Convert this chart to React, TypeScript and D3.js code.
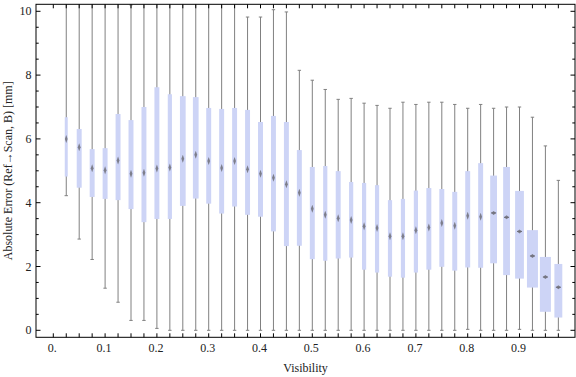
import React from "react";
import * as d3 from "d3";

const visibility = [0.025,0.05,0.075,0.1,0.125,0.15,0.175,0.2,0.225,0.25,0.275,0.3,0.325,0.35,0.375,0.4,0.425,0.45,0.475,0.5,0.525,0.55,0.575,0.6,0.625,0.65,0.675,0.7,0.725,0.75,0.775,0.8,0.825,0.85,0.875,0.9,0.925,0.95,0.975];
const whiskerLow = [4.22,2.86,2.22,1.32,0.88,0.31,0.31,0.06,0,0,0,0,0,0,0,0,0,0,0,0,0,0,0,0,0,0,0,0,0,0,0,0.03,0,0,0,0.03,0,0,0];
const q1 = [4.82,4.47,4.18,4.12,4.08,3.80,3.39,3.49,3.49,3.90,4.13,3.97,3.66,3.88,3.62,3.56,3.10,2.64,2.65,2.23,2.18,2.25,2.28,1.90,1.81,1.68,1.65,1.81,1.90,1.99,1.87,1.97,1.96,2.10,1.73,1.62,1.34,0.58,0.40];
const median = [6.0,5.74,5.08,5.02,5.32,4.91,4.94,5.07,5.10,5.38,5.50,5.31,5.09,5.31,5.05,4.91,4.78,4.58,4.31,3.81,3.62,3.51,3.46,3.26,3.21,2.95,2.95,3.14,3.22,3.36,3.28,3.59,3.56,3.68,3.54,3.10,2.33,1.67,1.35];
const q3 = [6.68,6.31,5.68,5.71,6.78,6.59,7.0,7.62,7.40,7.34,7.31,6.97,6.94,6.97,6.91,6.53,6.72,6.53,5.65,5.12,5.15,4.99,4.65,4.62,4.55,4.08,4.12,4.38,4.46,4.43,4.34,4.99,5.24,4.85,5.12,4.37,3.14,2.30,2.08];
const whiskerHigh = [10.6,10.6,10.6,10.6,10.6,10.2,10.6,10.6,10.6,10.6,10.6,10.6,10.6,10.6,9.82,9.82,10.05,9.98,8.15,7.84,7.55,7.24,7.27,7.12,7.05,6.96,7.15,7.08,7.15,7.15,7.08,6.96,7.08,6.96,7.0,7.0,6.68,5.78,4.70];
// relative sample weight (controls box width)
const weight = [0.27,0.45,0.45,0.45,0.45,0.45,0.45,0.45,0.38,0.52,0.52,0.45,0.45,0.45,0.45,0.45,0.45,0.45,0.45,0.45,0.38,0.45,0.38,0.38,0.38,0.38,0.38,0.38,0.45,0.45,0.45,0.45,0.45,0.62,0.62,0.8,1.0,1.0,0.72];

const xTickLabels = ["0.", "0.1", "0.2", "0.3", "0.4", "0.5", "0.6", "0.7", "0.8", "0.9"];
const xLabelValues = [0, 0.1, 0.2, 0.3, 0.4, 0.5, 0.6, 0.7, 0.8, 0.9];
const yTickValues = [0, 2, 4, 6, 8, 10];

const W = 576, H = 377;
const frame = { left: 36, right: 575, top: 4.3, bottom: 337.3 };

export default function App() {
  const x = d3.scaleLinear().domain([0, 1]).range([53.3, 571.3]);
  const y = d3.scaleLinear().domain([0, 10]).range([330.3, 11.3]);
  const wScale = d3.scaleLinear().domain([0, 1]).range([0, 11]);
  const font = "'Liberation Serif', 'Times New Roman', serif";
  const xMinor = d3.range(0, 40).map((i) => i * 0.025);
  const yMinor = d3.range(0, 21).map((i) => i * 0.5);

  return (
    <svg width={W} height={H} style={{ position: "absolute", left: 0, top: 0, background: "#fff" }}>
      <defs>
        <clipPath id="plotclip">
          <rect x={frame.left} y={frame.top} width={frame.right - frame.left} height={frame.bottom - frame.top} />
        </clipPath>
      </defs>
      <g clipPath="url(#plotclip)">
        {visibility.map((v, i) => {
          const cx = x(v);
          const bw = wScale(weight[i]);
          const cap = 1.7;
          const mh = bw > 6.5 ? 2 : 4;
          const mw = bw > 6.5 ? 2.5 : 1.4;
          const my = y(median[i]);
          return (
            <g key={i}>
              <line x1={cx} x2={cx} y1={y(whiskerLow[i])} y2={y(whiskerHigh[i])} stroke="#808080" strokeWidth={1} />
              <line x1={cx - cap} x2={cx + cap} y1={y(whiskerLow[i])} y2={y(whiskerLow[i])} stroke="#808080" strokeWidth={1} />
              <line x1={cx - cap} x2={cx + cap} y1={y(whiskerHigh[i])} y2={y(whiskerHigh[i])} stroke="#808080" strokeWidth={1} />
              <rect x={cx - bw / 2} y={y(q3[i])} width={bw} height={y(q1[i]) - y(q3[i])} fill="#cdd4f6" />
              <path d={`M${cx},${my - mh}L${cx + mw},${my}L${cx},${my + mh}L${cx - mw},${my}Z`} fill="#6e6e78" opacity={0.85} />
              {bw > 6.5 && <line x1={cx - 2.5} x2={cx + 2.5} y1={my} y2={my} stroke="#6e6e78" strokeWidth={1} />}
            </g>
          );
        })}
      </g>
      {/* frame */}
      <rect x={frame.left} y={frame.top} width={frame.right - frame.left} height={frame.bottom - frame.top} fill="none" stroke="#000" strokeWidth={1} />
      {/* x ticks bottom & top */}
      {xMinor.map((t, i) => (
        <g key={"xt" + i}>
          <line x1={x(t)} x2={x(t)} y1={frame.bottom} y2={frame.bottom - 4} stroke="#000" strokeWidth={1} />
          <line x1={x(t)} x2={x(t)} y1={frame.top} y2={frame.top + 4} stroke="#000" strokeWidth={1} />
        </g>
      ))}
      {/* y ticks left & right */}
      {yMinor.map((t, i) => {
        const major = Math.abs(t % 2) < 1e-9;
        const len = major ? 4.5 : 2.7;
        return (
          <g key={"yt" + i}>
            <line x1={frame.left} x2={frame.left + len} y1={y(t)} y2={y(t)} stroke="#000" strokeWidth={1} />
            <line x1={frame.right} x2={frame.right - len} y1={y(t)} y2={y(t)} stroke="#000" strokeWidth={1} />
          </g>
        );
      })}
      {/* tick labels */}
      {xLabelValues.map((v, i) => (
        <text key={"xl" + i} x={x(v) - 1} y={352} textAnchor="middle" fontFamily={font} fontSize={12} fill="#222">
          {xTickLabels[i]}
        </text>
      ))}
      {yTickValues.map((v, i) => (
        <text key={"yl" + i} x={31.5} y={y(v) + 4} textAnchor="end" fontFamily={font} fontSize={12} fill="#222">
          {v}
        </text>
      ))}
      {/* axis titles */}
      <text x={(frame.left + frame.right) / 2} y={372} textAnchor="middle" fontFamily={font} fontSize={12} fill="#222">
        Visibility
      </text>
      <text
        transform={`translate(11.5, ${(frame.top + frame.bottom) / 2}) rotate(-90)`}
        textAnchor="middle"
        fontFamily={font}
        fontSize={12}
        fill="#222"
      >
        Absolute Error (Ref→Scan, B) [mm]
      </text>
    </svg>
  );
}
